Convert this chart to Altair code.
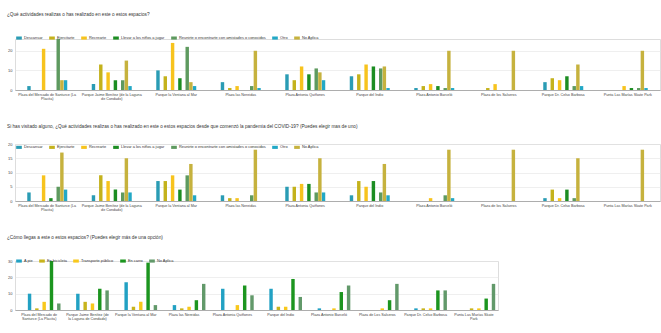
import altair as alt
import pandas as pd

FONT = "Liberation Sans"

# ---------- categories / tick labels ("|" marks a line break) ----------
LABELS_Q1 = [
    "Plaza del Mercado de Santurce (La|Placita)",
    "Parque Jaime Benítez (de la Laguna|de Condado)",
    "Parque la Ventana al Mar",
    "Plaza las Nereidas",
    "Plaza Antonia Quiñones",
    "Parque del Indio",
    "Plaza Antonio Barceló",
    "Plaza de los Salseros",
    "Parque Dr. Celso Barbosa",
    "Punta Las Marías Skate Park",
]
LABELS_Q2 = [
    "Plaza del Mercado de Santurce (La|Placita)",
    "Parque Jaime Benítez (de la Laguna|de Condado)",
    "Parque la Ventana al Mar",
    "Plaza las Nereidas",
    "Plaza Antonia Quiñones",
    "Parque del Indio",
    "Plaza Antonio Barceló",
    "Plaza de los Salseros",
    "Parque Dr. Celso Barbosa",
    "Punta Las Marías Skate Park",
]
LABELS_Q3 = [
    "Plaza del Mercado de|Santurce (La Placita)",
    "Parque Jaime Benítez (de|la Laguna de Condado)",
    "Parque la Ventana al Mar",
    "Plaza las Nereidas",
    "Plaza Antonia Quiñones",
    "Parque del Indio",
    "Plaza Antonio Barceló",
    "Plaza de Los Salseros",
    "Parque Dr. Celso Barbosa",
    "Punta Las Marías Skate|Park",
]

# ---------- series ----------
ACTIVITIES = [
    "Descansar",
    "Ejercitarte",
    "Recrearte",
    "Llevar a los niños a jugar",
    "Reunirte o encontrarte con amistades o conocidos",
    "Otro",
    "No Aplica",
]
ACT_COLORS = ["#2a9cb4", "#c4b21c", "#f7c31d", "#1c8d22", "#5e9a5f", "#22a8c6", "#c6b23e"]

MODES = ["A pie", "En bicicleta", "Transporte público", "En carro", "No Aplica"]
MODE_COLORS = ["#22a1c3", "#c8b41c", "#f8c81c", "#1c951f", "#62996a"]

# ---------- values (one list per series, in category order) ----------
Q1_DESCANSAR   = [2, 3, 10, 4, 8, 7, 1, 0, 4, 0]
Q1_EJERCITARTE = [0, 13, 7, 1, 5, 8, 2, 1, 6, 0]
Q1_RECREARTE   = [21, 9, 24, 2, 12, 13, 3, 3, 5, 2]
Q1_LLEVAR      = [0, 5, 6, 0, 8, 12, 2, 0, 7, 1]
Q1_REUNIRTE    = [26, 5, 22, 2, 11, 11, 1, 0, 2, 1]
Q1_OTRO        = [5, 2, 2, 1, 5, 1, 1, 0, 2, 1]
Q1_NOAPLICA    = [5, 15, 4, 20, 9, 12, 20, 20, 13, 20]

Q2_DESCANSAR   = [3, 2, 7, 2, 5, 2, 0, 0, 1, 0]
Q2_EJERCITARTE = [0, 9, 7, 1, 5, 7, 0, 0, 4, 0]
Q2_RECREARTE   = [9, 7, 9, 1, 6, 5, 1, 0, 1, 0]
Q2_LLEVAR      = [1, 4, 4, 0, 6, 7, 0, 0, 4, 0]
Q2_REUNIRTE    = [5, 3, 9, 2, 3, 3, 2, 0, 1, 0]
Q2_OTRO        = [4, 3, 2, 0, 3, 2, 1, 0, 0, 0]
Q2_NOAPLICA    = [17, 15, 13, 18, 15, 13, 18, 18, 15, 18]

Q3_APIE        = [10, 10, 17, 3, 13, 13, 1, 0, 1, 0]
Q3_BICICLETA   = [1, 5, 2, 1, 0, 2, 0, 0, 1, 1]
Q3_TRANSPORTE  = [5, 4, 5, 2, 3, 2, 1, 1, 1, 1]
Q3_CARRO       = [30, 13, 29, 6, 15, 19, 11, 6, 12, 7]
Q3_NOAPLICA    = [4, 12, 3, 16, 9, 8, 15, 16, 12, 16]

TITLE_Q1 = "¿Qué actividades realizas o has realizado en este o estos espacios?"
TITLE_Q2 = ("Si has visitado alguno, ¿Qué actividades realizas o has realizado en este o estos "
            "espacios desde que comenzó la pandemia del COVID-19? (Puedes elegir mas de uno)")
TITLE_Q3 = "¿Cómo llegas a este o estos espacios? (Puedes elegir más de una opción)"

LEGEND_SYMBOL = "M-1,-0.55L1,-0.55L1,0.55L-1,0.55Z"


def panel(labels, series, columns, colors, title, width, height, ymax, yticks,
          title_offset, legend_y):
    rows = []
    for s, vals in zip(series, columns):
        for lab, v in zip(labels, vals):
            rows.append({"lugar": lab, "serie": s, "valor": v})
    df = pd.DataFrame(rows)
    return (
        alt.Chart(df, title=alt.TitleParams(
            title, anchor="start", frame="group", dx=-8, offset=title_offset,
            fontSize=4.7, fontWeight="normal", color="#333333", font=FONT))
        .mark_bar()
        .encode(
            x=alt.X("lugar:N", sort=labels, title=None,
                    scale=alt.Scale(paddingInner=0.38, paddingOuter=0.19),
                    axis=alt.Axis(labelExpr="split(datum.value, '|')", labelAngle=0,
                                  labelFontSize=3.7, labelColor="#444444", labelFont=FONT,
                                  ticks=False, labelPadding=2, domainColor="#a0a0a0",
                                  domainWidth=0.8, labelLineHeight=4.6, labelLimit=200)),
            xOffset=alt.XOffset("serie:N", sort=series,
                                scale=alt.Scale(paddingInner=0.06, paddingOuter=0)),
            y=alt.Y("valor:Q", title=None,
                    scale=alt.Scale(domain=[0, ymax], nice=False),
                    axis=alt.Axis(values=yticks, labelFontSize=4, labelColor="#444444",
                                  labelFont=FONT, ticks=False, domain=False, labelPadding=3,
                                  gridColor="#e4e4e4", gridWidth=0.6, format="d")),
            color=alt.Color("serie:N", sort=series,
                            scale=alt.Scale(domain=series, range=colors),
                            legend=alt.Legend(orient="none", legendX=1, legendY=legend_y,
                                              direction="horizontal", title=None,
                                              symbolType=LEGEND_SYMBOL, symbolSize=32,
                                              symbolStrokeWidth=0, labelFontSize=3.9,
                                              labelFont=FONT, labelColor="#333333",
                                              columnPadding=6, labelOffset=2, padding=0,
                                              labelLimit=300)),
        )
        .properties(width=width, height=height)
    )


p1 = panel(LABELS_Q1, ACTIVITIES,
           [Q1_DESCANSAR, Q1_EJERCITARTE, Q1_RECREARTE, Q1_LLEVAR, Q1_REUNIRTE, Q1_OTRO, Q1_NOAPLICA],
           ACT_COLORS, TITLE_Q1, 645, 51, 26, [0, 10, 20], 18, -4)
p2 = panel(LABELS_Q2, ACTIVITIES,
           [Q2_DESCANSAR, Q2_EJERCITARTE, Q2_RECREARTE, Q2_LLEVAR, Q2_REUNIRTE, Q2_OTRO, Q2_NOAPLICA],
           ACT_COLORS, TITLE_Q2, 645, 57, 20, [0, 5, 10, 15, 20], 13.5, 0.3)
p3 = panel(LABELS_Q3, MODES,
           [Q3_APIE, Q3_BICICLETA, Q3_TRANSPORTE, Q3_CARRO, Q3_NOAPLICA],
           MODE_COLORS, TITLE_Q3, 483, 49, 30, [0, 10, 20, 30], 18, -3)

top = alt.vconcat(p1, p2, spacing=22).resolve_scale(color="independent", x="independent")
chart = (
    alt.vconcat(top, p3, spacing=22)
    .resolve_scale(color="independent", x="independent")
    .properties(padding={"left": 6, "top": 11, "right": 0, "bottom": 0})
    .configure_view(stroke=None)
    .configure(font=FONT)
)

chart.save("out.html", embed_options={"renderer": "svg", "actions": False})
